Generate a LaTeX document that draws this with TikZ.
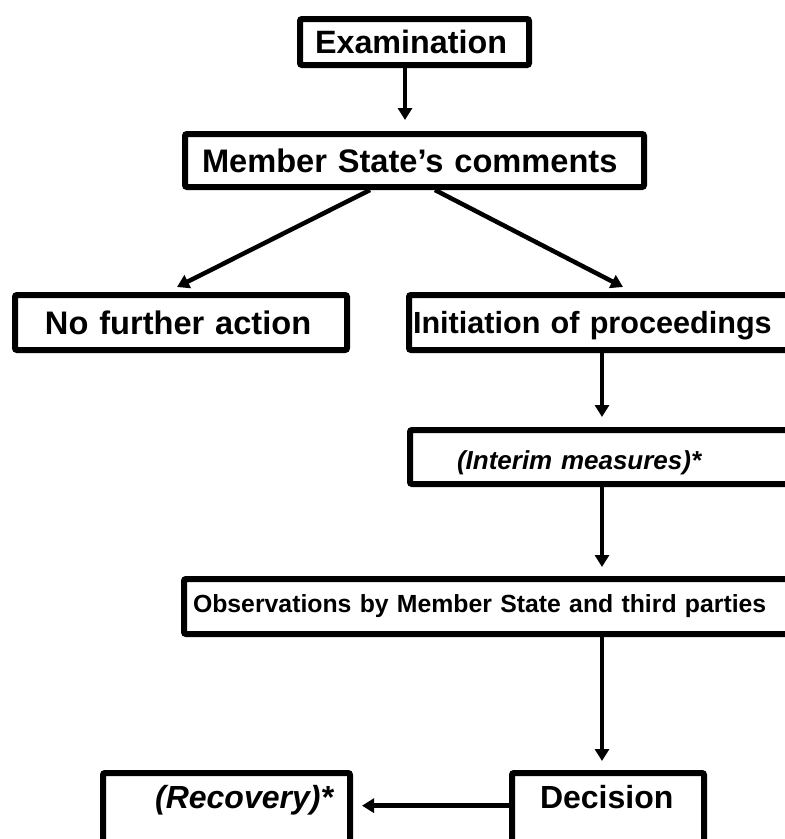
\documentclass[tikz,border=0pt]{standalone}
\usepackage{fontspec}
\setmainfont{Liberation Sans}
\usetikzlibrary{arrows.meta}
\newcommand\myfs[1]{\fontsize{#1pt}{#1pt}\selectfont}
\tikzset{
  box/.style={draw, line width=6pt, rounded corners=2pt, inner ysep=0pt,
    outer sep=3pt, align=left, anchor=north west},
  arr/.style={line width=4.5pt, -{Triangle[length=12pt,width=14pt]}},
}
\begin{document}
\begin{tikzpicture}[x=1pt,y=-1pt]
\useasboundingbox (0,0) rectangle (785,839);
\clip (0,0) rectangle (785,839);
\coordinate (spine) at (602,0);

\node[box, inner xsep=15pt, text width=199pt, minimum height=46pt,
  font=\myfs{32.3}\bfseries] (exam) at (297,16) {Examination};
\node[box, inner xsep=17pt, text width=425pt, minimum height=53pt,
  font=\myfs{32.6}\bfseries] (member) at (182,131) {Member State’s comments};
\node[box, inner xsep=30pt, text width=272pt, minimum height=55pt,
  font=\myfs{32.6}\bfseries] (nfa) at (12,292) {No further action};
\node[box, inner xsep=4pt, text width=380pt, minimum height=55pt,
  text height=28.3pt, text depth=6.4pt,
  font=\myfs{30.6}\bfseries] (init) at (406,292) {Initiation of proceedings};
\node[box, inner xsep=47pt, text width=293pt, minimum height=54pt,
  text height=29.5pt, text depth=5.5pt,
  font=\myfs{26}\bfseries\itshape] (interim) at (407,427) {(Interim measures)*};
\node[box, inner xsep=9pt, text width=595pt, minimum height=55pt,
  font=\myfs{24.8}\bfseries] (obs) at (181,576) {Observations by Member State and third parties};
\node[box, inner xsep=28pt, text width=136pt, text height=35.3pt, text depth=60pt,
  font=\myfs{32}\bfseries] (dec) at (509,770) {Decision};
\node[box, align=right, inner xsep=17pt, text width=213pt, text height=35.3pt, text depth=60pt,
  font=\myfs{32}\bfseries\itshape] (rec) at (100,770) {(Recovery)*};

\draw[arr, shorten >=11pt] ([xshift=-9.5pt]exam.south) -- ([xshift=-9.5pt]member.north);
\draw[arr] ([xshift=-44.5pt]member.south) -- ([xshift=-4pt,yshift=5pt]nfa.north);
\draw[arr] ([xshift=20.5pt]member.south) -- ([xshift=20pt,yshift=5pt]init.north);
\draw[arr, shorten >=10pt] (init.south -| spine) -- (interim.north -| spine);
\draw[arr, shorten >=9pt] (interim.south -| spine) -- (obs.north -| spine);
\draw[arr, shorten >=9pt] (obs.south -| spine) -- (dec.north -| spine);
\draw[arr, shorten >=9pt] (dec.mid west) -- (rec.mid east);
\end{tikzpicture}
\end{document}
